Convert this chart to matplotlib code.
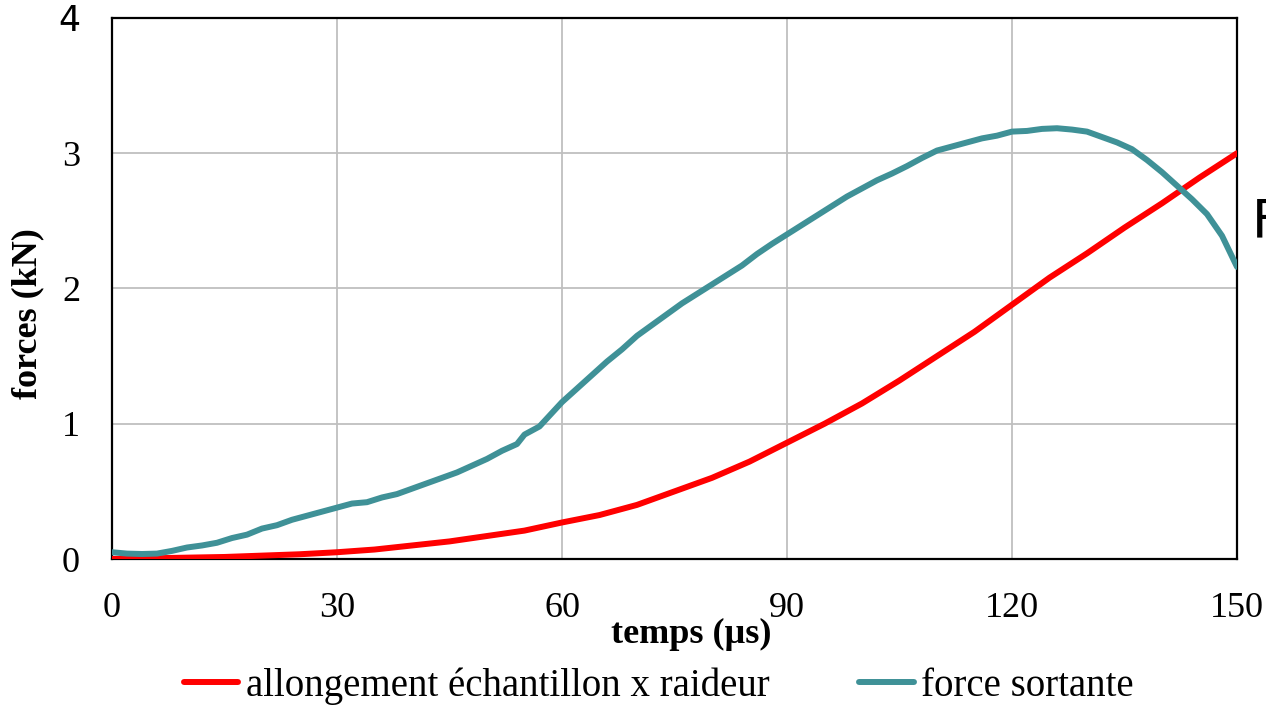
import matplotlib
matplotlib.use("Agg")
import matplotlib.pyplot as plt

# Data
t_force = [0, 2, 4, 6, 8, 10, 12, 14, 16, 18, 20, 22, 24, 26, 28, 30, 32, 34, 36, 38,
           40, 42, 44, 46, 48, 50, 52, 54, 55, 57, 60, 62, 64, 66, 68, 70, 72, 74, 76, 78,
           80, 82, 84, 86, 88, 90, 92, 94, 96, 98, 100, 102, 104, 106, 108, 110, 112, 114,
           116, 118, 120, 122, 124, 126, 128, 130, 132, 134, 136, 138, 140, 142, 144, 146,
           148, 150]
force_sortante = [0.05, 0.04, 0.037, 0.04, 0.06, 0.085, 0.10, 0.12, 0.155, 0.18, 0.225, 0.25,
                  0.29, 0.32, 0.35, 0.38, 0.41, 0.42, 0.455, 0.48, 0.52, 0.56, 0.60, 0.64,
                  0.69, 0.74, 0.80, 0.85, 0.92, 0.98, 1.16, 1.26, 1.36, 1.46, 1.55, 1.65,
                  1.73, 1.81, 1.89, 1.96, 2.03, 2.10, 2.17, 2.255, 2.33, 2.40, 2.47, 2.54,
                  2.61, 2.68, 2.74, 2.80, 2.85, 2.905, 2.965, 3.02, 3.05, 3.08, 3.11, 3.13,
                  3.16, 3.165, 3.18, 3.185, 3.175, 3.16, 3.12, 3.08, 3.03, 2.95, 2.86, 2.76,
                  2.66, 2.55, 2.39, 2.16]

t_allong = [0, 5, 10, 15, 20, 25, 30, 35, 40, 45, 50, 55, 60, 65, 70, 75, 80, 85, 90, 95,
            100, 105, 110, 115, 120, 125, 130, 135, 140, 145, 150]
allongement = [0.0, 0.005, 0.01, 0.015, 0.025, 0.035, 0.05, 0.07, 0.10, 0.13, 0.17, 0.21,
               0.27, 0.325, 0.40, 0.50, 0.60, 0.72, 0.86, 1.00, 1.15, 1.32, 1.50, 1.68,
               1.88, 2.08, 2.26, 2.45, 2.63, 2.82, 3.00]

x_ticks = [0, 30, 60, 90, 120, 150]
y_ticks = [0, 1, 2, 3, 4]

label_allong = "allongement échantillon x raideur"
label_force = "force sortante"
xlabel = "temps (µs)"
ylabel = "forces (kN)"

plt.rcParams['font.family'] = ['Liberation Serif', 'DejaVu Serif']

fig = plt.figure(figsize=(12.66, 7.06), dpi=100)
ax = fig.add_axes([112/1266, 147/706, (1237-112)/1266, (559-18)/706])

ax.plot(t_allong, allongement, color='#FF0000', lw=4.3, label=label_allong,
        solid_capstyle='round', solid_joinstyle='round', zorder=3)
ax.plot(t_force, force_sortante, color='#3F9197', lw=4.3, label=label_force,
        solid_capstyle='round', solid_joinstyle='round', zorder=3)

ax.set_xlim(0, 150)
ax.set_ylim(0, 4)
ax.set_xticks(x_ticks)
ax.set_yticks(y_ticks)
ax.grid(True, color='#BFBFBF', lw=1.3)
ax.set_axisbelow(True)
ax.tick_params(axis='both', length=0, labelsize=26)
ax.tick_params(axis='x', pad=24)
ax.tick_params(axis='y', pad=23)
for lab in ax.get_yticklabels():
    if lab.get_text() == '4':
        lab.set_fontfamily('DejaVu Sans')
        lab.set_fontsize(25)
for s in ax.spines.values():
    s.set_color('black')
    s.set_linewidth(1.6)

ax.set_xlabel(xlabel, fontsize=26, fontweight='bold')
ax.xaxis.set_label_coords((691-112)/1125, (559-618)/541)
ax.set_ylabel(ylabel, fontsize=26, fontweight='bold')
ax.yaxis.set_label_coords((44-112)/1125, (559-314)/541)

leg = fig.legend(loc='center', bbox_to_anchor=(659/1266, 1 - 686/706), ncol=2, frameon=False,
                 fontsize=28, handlelength=1.4, handletextpad=0.2, columnspacing=2.3)

fig.text(1252/1266, 1 - 222/706, "F", fontsize=38, family='DejaVu Sans',
         ha='left', va='center')

fig.savefig("out.png", dpi=100)
